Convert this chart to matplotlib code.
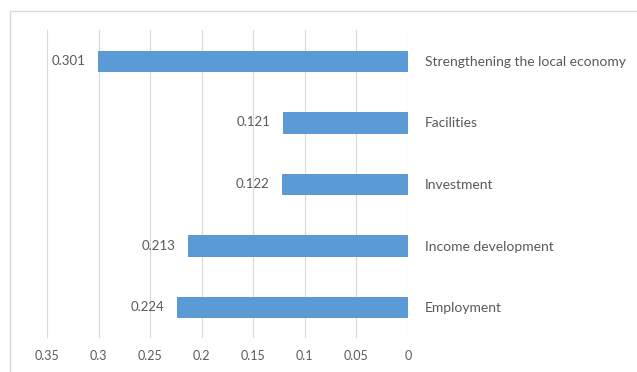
import matplotlib.pyplot as plt
from matplotlib.patches import Rectangle

# data, top to bottom as shown
categories = ["Strengthening the local economy", "Facilities", "Investment",
              "Income development", "Employment"]
values = [0.301, 0.121, 0.122, 0.213, 0.224]
xticks = [0, 0.05, 0.1, 0.15, 0.2, 0.25, 0.3, 0.35]
xticklabels = ["0", "0.05", "0.1", "0.15", "0.2", "0.25", "0.3", "0.35"]

plt.rcParams['font.family'] = ['Lato', 'DejaVu Sans']
grey_text = "#595959"

fig = plt.figure(figsize=(6.37, 3.72), dpi=100)
ax = fig.add_axes([47/637, 34/372, 361/637, 308/372])

# chart border (runs off the right and bottom edges)
fig.patches.append(Rectangle((10/637, -0.05), 1.0, 1 - 11/372 + 0.05,
                             transform=fig.transFigure, fill=False,
                             edgecolor="#D9D9D9", linewidth=1))

ypos = list(range(len(categories)))
ax.barh(ypos, values, height=0.33, color="#5B9BD5", edgecolor="#4F8FCB",
        linewidth=0.6, zorder=3)

for y, v in zip(ypos, values):
    ax.text(v + 0.012, y, f"{v:.3f}", ha="right", va="center",
            fontsize=9.5, color=grey_text)

ax.set_xlim(0.35, 0)
ax.set_ylim(len(categories) - 0.5, -0.5)
ax.set_xticks(xticks)
ax.set_xticklabels(xticklabels)
ax.set_yticks(ypos)
ax.set_yticklabels(categories)
ax.yaxis.tick_right()

ax.tick_params(axis="x", length=0, pad=9, labelsize=9, labelcolor=grey_text)
ax.tick_params(axis="y", length=0, pad=12, labelsize=10, labelcolor=grey_text)

ax.grid(axis="x", color="#D9D9D9", linewidth=0.8, zorder=0)
for s in ax.spines.values():
    s.set_visible(False)

fig.savefig("out.png", dpi=100)
